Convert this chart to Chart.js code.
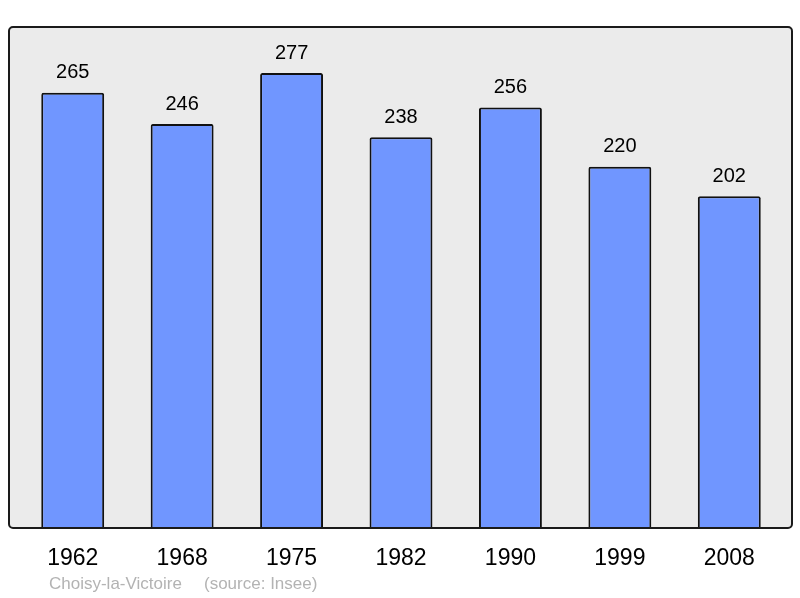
<!DOCTYPE html>
<html>
<head>
<meta charset="utf-8">
<script src="https://cdn.jsdelivr.net/npm/chart.js@4/dist/chart.umd.min.js"></script>
<style>
  html, body { margin: 0; padding: 0; background: #fff; }
  #wrap { width: 800px; height: 598px; }
</style>
</head>
<body>
<div id="wrap"><canvas id="chart" width="800" height="598"></canvas></div>
<script>
'use strict';

var years = ['1962', '1968', '1975', '1982', '1990', '1999', '2008'];
var population = [265, 246, 277, 238, 256, 220, 202];
var townName = 'Choisy-la-Victoire';
var sourceNote = '(source: Insee)';

var FONT = '"Liberation Sans", Arial, sans-serif';

// grey frame behind the bars, border drawn on top
var framePlugin = {
    id: 'frame',
    beforeDatasetsDraw: function(chart) {
        var ctx = chart.ctx;
        ctx.save();
        ctx.beginPath();
        ctx.roundRect(9, 27, 783, 501, 4);
        ctx.fillStyle = '#ebebeb';
        ctx.fill();
        ctx.restore();
    },
    afterDatasetsDraw: function(chart) {
        var ctx = chart.ctx;
        ctx.save();
        ctx.beginPath();
        ctx.roundRect(9, 27, 783, 501, 4);
        ctx.lineWidth = 2;
        ctx.strokeStyle = '#1a1a1a';
        ctx.stroke();
        ctx.restore();
    }
};

// value above each bar + footer caption
var labelsPlugin = {
    id: 'valueLabels',
    afterDraw: function(chart) {
        var ctx = chart.ctx;
        var meta = chart.getDatasetMeta(0);
        ctx.save();
        ctx.fillStyle = '#000';
        ctx.font = '20px ' + FONT;
        ctx.textAlign = 'center';
        ctx.textBaseline = 'middle';
        meta.data.forEach(function(bar, i) {
            ctx.fillText(String(population[i]), bar.x, bar.y - 20);
        });
        ctx.fillStyle = '#b3b3b3';
        ctx.font = '17px ' + FONT;
        ctx.textAlign = 'left';
        ctx.fillText(townName, 49, 584);
        ctx.fillText(sourceNote, 204, 584);
        ctx.restore();
    }
};

new Chart(document.getElementById('chart'), {
    type: 'bar',
    data: {
        labels: years,
        datasets: [{
            data: population,
            backgroundColor: '#7096ff',
            borderColor: '#111',
            borderWidth: 2,
            borderSkipped: 'bottom',
            borderRadius: { topLeft: 2, topRight: 2 },
            categoryPercentage: 1,
            barPercentage: 0.575
        }]
    },
    options: {
        responsive: false,
        animation: false,
        layout: { padding: { left: 18, right: 16, top: 27, bottom: 18 } },
        plugins: { legend: { display: false }, tooltip: { enabled: false } },
        scales: {
            x: {
                grid: { display: false },
                border: { display: false },
                ticks: { color: '#000', font: { family: FONT, size: 23 }, padding: 8 }
            },
            y: { display: false, min: 0, max: 305 }
        }
    },
    plugins: [framePlugin, labelsPlugin]
});
</script>
</body>
</html>
